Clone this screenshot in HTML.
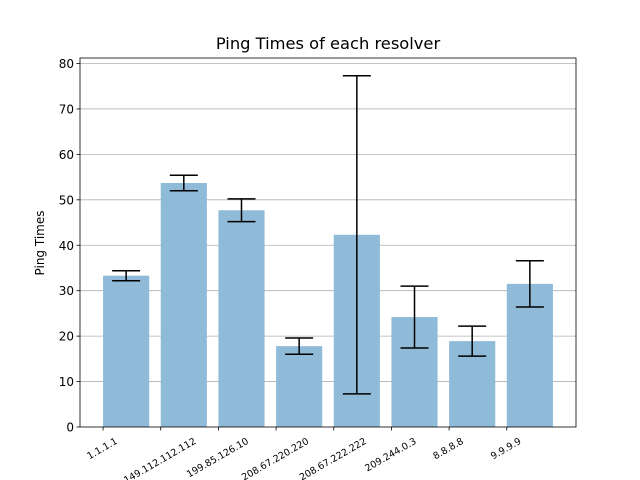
<!DOCTYPE html>
<html><head><meta charset="utf-8"><style>
body{margin:0;background:#fff;}
svg{display:block;font-family:"DejaVu Sans","Liberation Sans",sans-serif;}
</style></head><body>
<svg id="chart" width="640" height="480">
<text x="328" y="49" text-anchor="middle" font-size="16.3">Ping Times of each resolver</text>
<text transform="translate(44,243) rotate(-90)" text-anchor="middle" font-size="12">Ping Times</text>
<g id="grid"></g><g id="bars"></g><g id="errs"></g><g id="axes"></g>
</svg>
<script>
const categories=["1.1.1.1","149.112.112.112","199.85.126.10","208.67.220.220","208.67.222.222","209.244.0.3","8.8.8.8","9.9.9.9"];
const values=[33.3,53.7,47.7,17.8,42.3,24.2,18.9,31.5];
const errors=[1.1,1.7,2.5,1.8,35.0,6.8,3.3,5.1];
const yTicks=[0,10,20,30,40,50,60,70,80];
const L=80,R=576,T=58,B=427;
const x=i=>L+(i+0.8)/8.6*(R-L);
const y=v=>B-v*(B-63.5)/80;
const NS="http://www.w3.org/2000/svg";
function mk(tag,attrs,parent){const e=document.createElementNS(NS,tag);for(const k in attrs)e.setAttribute(k,attrs[k]);document.getElementById(parent).appendChild(e);return e;}
const bw=0.8/8.6*(R-L);
yTicks.forEach(t=>{
  if(t>0){const g=mk('line',{x1:L,x2:R,y1:y(t),y2:y(t),stroke:'#b0b0b0','stroke-width':0.8},'grid');
  
  }
  const tk=mk('line',{x1:L-3.5,x2:L,y1:y(t),y2:y(t),stroke:'#000','stroke-width':0.8},'axes');
  
  
  const lb=mk('text',{x:L-6,y:y(t)+4.5,'text-anchor':'end','font-size':12},'axes');
  lb.textContent=t;
  
  
});
const sin30=0.5,cos30=Math.sqrt(3)/2,fs=9.5;
values.forEach((v,i)=>{
  const r=mk('rect',{x:x(i)-bw/2,y:y(v),width:bw,height:B-y(v),fill:'#8fbbd9'},'bars');
  
  
  const e=errors[i],cx=x(i);
  const g=mk('path',{d:`M${cx},${y(v+e)}V${y(v-e)}M${cx-14},${y(v+e)}H${cx+14}M${cx-14},${y(v-e)}H${cx+14}`,stroke:'#000','stroke-width':1.5,fill:'none'},'errs');
  
  
  const tx=cx-bw/2;
  const tk=mk('line',{x1:tx,x2:tx,y1:B,y2:B+3.5,stroke:'#000','stroke-width':0.8},'axes');
  
  
  const lb=mk('text',{'text-anchor':'middle','font-size':fs},'axes');
  lb.textContent=categories[i];
  
  
  const w=lb.getComputedTextLength();
  const boxH=w*sin30+fs*1.0*cos30;
  const cy=436+boxH/2;
  lb.setAttribute('transform',`translate(${tx-1},${cy}) rotate(-30) translate(0,${fs*0.35})`);
});
const f=mk('rect',{x:L,y:T,width:R-L,height:B-T,fill:'none',stroke:'#000','stroke-width':0.8},'axes');


</script>
</body></html>
